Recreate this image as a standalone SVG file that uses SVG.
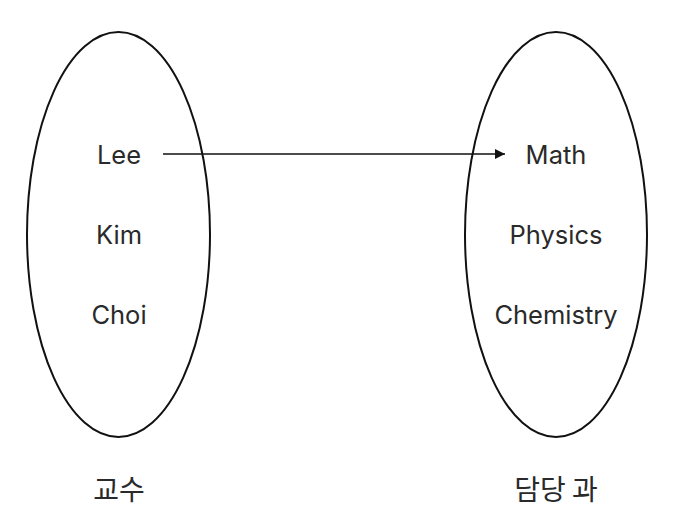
<svg xmlns="http://www.w3.org/2000/svg" width="680" height="526" viewBox="0 0 680 526">
<style>
.set{fill:none;stroke:#111;stroke-width:2}
.t{font-family:"Inter","Liberation Sans","Noto Sans CJK KR",sans-serif;font-size:25.5px;fill:#2a2a2a;text-anchor:middle}
.k{font-family:"Noto Sans CJK KR",sans-serif;font-size:28px;fill:#2a2a2a;text-anchor:middle}
.e{stroke:#111;stroke-width:1.5;fill:none}
</style>
<defs>
<marker id="ah" viewBox="0 0 10 10" refX="10" refY="5" markerWidth="10" markerHeight="10" markerUnits="userSpaceOnUse" orient="auto">
<path d="M0,0 L10,5 L0,10 z" fill="#111"/>
</marker>
</defs>
<rect width="680" height="526" fill="#fff"/>
<g id="professors">
<ellipse class="set" cx="118.5" cy="234.5" rx="91.5" ry="202.5"/>
<text class="t" x="119" y="164">Lee</text>
<text class="t" x="119" y="244">Kim</text>
<text class="t" x="119" y="324">Choi</text>
<text class="k" x="119" y="500">교수</text>
</g>
<g id="departments">
<ellipse class="set" cx="556" cy="234.5" rx="91" ry="202.5"/>
<text class="t" x="556" y="164">Math</text>
<text class="t" x="556" y="244">Physics</text>
<text class="t" x="556" y="324">Chemistry</text>
<text class="k" x="556" y="500">담당 과</text>
</g>
<g id="connectors">
<line class="e" x1="163" y1="154" x2="505" y2="154" marker-end="url(#ah)"/>
</g>
</svg>
